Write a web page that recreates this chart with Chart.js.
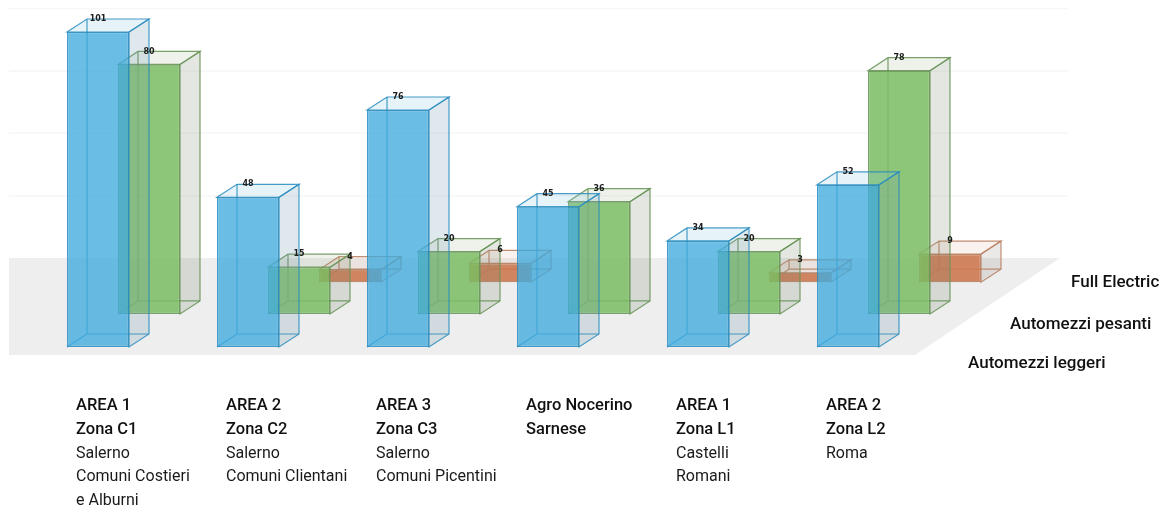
<!DOCTYPE html>
<html lang="it">
<head>
<meta charset="utf-8">
<title>Automezzi per area</title>
<script src="https://cdn.jsdelivr.net/npm/chart.js@4"></script>
<style>
  html, body { margin: 0; padding: 0; background: #fff; }
  #wrap { position: relative; width: 1162px; height: 506px; overflow: hidden; font-family: Roboto, sans-serif; color: #1a1a1a; }
  #chart { position: absolute; left: 0; top: 0; filter: blur(0.6px); }
  .cat { position: absolute; top: 393px; font-size: 16px; line-height: 23.8px; white-space: nowrap; }
  .cat b { font-size: 16.5px; font-weight: 500; color: #111; }
  .series { position: absolute; font-size: 17px; font-weight: 500; line-height: 20px; white-space: nowrap; color: #111; }
</style>
</head>
<body>
<div id="wrap"><canvas id="chart" width="1162" height="506"></canvas></div>
<script>
// DATA
const categories = ["C1", "C2", "C3", "Agro", "L1", "L2"];
const boldLines = [
  ["AREA 1", "Zona C1"],
  ["AREA 2", "Zona C2"],
  ["AREA 3", "Zona C3"],
  ["Agro Nocerino", "Sarnese"],
  ["AREA 1", "Zona L1"],
  ["AREA 2", "Zona L2"]
];
const plainLines = [
  ["Salerno", "Comuni Costieri", "e Alburni"],
  ["Salerno", "Comuni Clientani"],
  ["Salerno", "Comuni Picentini"],
  [],
  ["Castelli", "Romani"],
  ["Roma"]
];
const leggeri = [101, 48, 76, 45, 34, 52];
const pesanti = [80, 15, 20, 36, 20, 78];
const fullElectric = [null, 4, 6, null, 3, 9];
const wallTicks = [20, 40, 60, 80];

// 3D LOOK
const depthX = 20;
const depthY = 13;
const axisRange = 108.7;
const floorShift = 28.5; // back wall, in value units above the front row

// one vertical axis per row, so each row stands further back on the floor
function rowAxis(shift) {
  return { axis: "y", display: false, min: -shift, max: axisRange - shift };
}

function drawBox(ctx, bar, line, side, top) {
  const left = bar.x - bar.width / 2;
  const right = bar.x + bar.width / 2;
  const up = bar.y;
  const down = bar.base;

  ctx.lineWidth = 1.2;
  ctx.strokeStyle = line;

  // right face
  ctx.fillStyle = side;
  ctx.beginPath();
  ctx.moveTo(right, up);
  ctx.lineTo(right + depthX, up - depthY);
  ctx.lineTo(right + depthX, down - depthY);
  ctx.lineTo(right, down);
  ctx.closePath();
  ctx.fill();
  ctx.stroke();

  // top face
  ctx.fillStyle = top;
  ctx.beginPath();
  ctx.moveTo(left, up);
  ctx.lineTo(left + depthX, up - depthY);
  ctx.lineTo(right + depthX, up - depthY);
  ctx.lineTo(right, up);
  ctx.closePath();
  ctx.fill();
  ctx.stroke();

  // hidden back edges
  ctx.beginPath();
  ctx.moveTo(left + depthX, up - depthY);
  ctx.lineTo(left + depthX, down - depthY);
  ctx.lineTo(right + depthX, down - depthY);
  ctx.moveTo(left + depthX, down - depthY);
  ctx.lineTo(left, down);
  ctx.stroke();
}

const box3d = {
  id: "box3d",
  beforeDatasetsDraw(chart) {
    const ctx = chart.ctx;
    const wall = chart.scales.wall;
    const floorTop = wall.getPixelForValue(0);
    const floorBottom = chart.scales.y.getPixelForValue(0) + 8;

    // floor
    ctx.save();
    ctx.fillStyle = "#eeeeee";
    ctx.beginPath();
    ctx.moveTo(9, floorTop);
    ctx.lineTo(1060, floorTop);
    ctx.lineTo(915, floorBottom);
    ctx.lineTo(9, floorBottom);
    ctx.closePath();
    ctx.fill();

    // lines on the back wall
    ctx.strokeStyle = "#f6f6f6";
    ctx.lineWidth = 1.5;
    wallTicks.forEach(t => {
      const y = wall.getPixelForValue(t);
      ctx.beginPath();
      ctx.moveTo(9, y);
      ctx.lineTo(1068, y);
      ctx.stroke();
    });
    ctx.restore();
  },
  beforeDatasetDraw(chart, args) {
    const ds = chart.data.datasets[args.index];
    const ctx = chart.ctx;
    ctx.save();
    args.meta.data.forEach((bar, i) => {
      if (ds.data[i] === null) return;
      drawBox(ctx, bar, ds.borderColor, ds.sideColor, ds.topColor);
    });
    ctx.restore();
  },
  afterDatasetsDraw(chart) {
    const ctx = chart.ctx;
    ctx.save();
    ctx.font = "bold 8px 'DejaVu Sans'";
    ctx.fillStyle = "#1c1c1c";
    ctx.textAlign = "center";
    ctx.textBaseline = "middle";
    chart.data.datasets.forEach((ds, d) => {
      chart.getDatasetMeta(d).data.forEach((bar, i) => {
        if (ds.data[i] === null) return;
        ctx.fillText(ds.data[i], bar.x, bar.y - depthY);
      });
    });
    ctx.restore();
  }
};

const chart = new Chart(document.getElementById("chart"), {
  type: "bar",
  data: {
    labels: categories,
    datasets: [
      {
        label: "Automezzi leggeri",
        data: leggeri,
        yAxisID: "y",
        clip: false,
        backgroundColor: "rgba(64, 170, 222, 0.78)",
        borderColor: "rgba(40, 140, 190, 0.85)",
        sideColor: "rgba(110, 150, 175, 0.22)",
        topColor: "rgba(130, 195, 225, 0.2)"
      },
      {
        label: "Automezzi pesanti",
        data: pesanti,
        yAxisID: "y2",
        clip: false,
        backgroundColor: "rgba(122, 188, 98, 0.85)",
        borderColor: "rgba(105, 150, 90, 0.9)",
        sideColor: "rgba(120, 130, 105, 0.2)",
        topColor: "rgba(150, 170, 120, 0.15)"
      },
      {
        label: "Full Electric",
        data: fullElectric,
        yAxisID: "y3",
        clip: false,
        backgroundColor: "rgba(205, 120, 80, 0.9)",
        borderColor: "rgba(185, 130, 100, 0.9)",
        sideColor: "rgba(130, 120, 115, 0.16)",
        topColor: "rgba(220, 170, 140, 0.15)"
      }
    ]
  },
  options: {
    responsive: false,
    animation: false,
    events: [],
    devicePixelRatio: 1,
    layout: { padding: { left: 74, right: 188, top: 8, bottom: 159 } },
    datasets: { bar: { categoryPercentage: 1.02, barPercentage: 1.2157 } },
    elements: { bar: { borderWidth: 1.2, borderSkipped: false } },
    plugins: { legend: { display: false }, tooltip: { enabled: false } },
    scales: {
      x: { display: false },
      y: rowAxis(0),
      y2: rowAxis(10.6),
      y3: rowAxis(20.8),
      wall: rowAxis(floorShift)
    }
  },
  plugins: [box3d]
});

// TEXT UNDER AND BESIDE THE CHART
const wrap = document.getElementById("wrap");

boldLines.forEach((lines, i) => {
  const div = document.createElement("div");
  div.className = "cat";
  div.style.left = (chart.scales.x.getPixelForValue(i) - 73) + "px";
  const bold = lines.map(t => `<b>${t}</b>`);
  div.innerHTML = bold.concat(plainLines[i]).join("<br>");
  wrap.appendChild(div);
});

const seriesSpots = [[968, 352], [1010, 313], [1071, 271]];
chart.data.datasets.forEach((ds, d) => {
  const div = document.createElement("div");
  div.className = "series";
  div.style.left = seriesSpots[d][0] + "px";
  div.style.top = seriesSpots[d][1] + "px";
  div.textContent = ds.label;
  wrap.appendChild(div);
});
</script>
</body>
</html>
